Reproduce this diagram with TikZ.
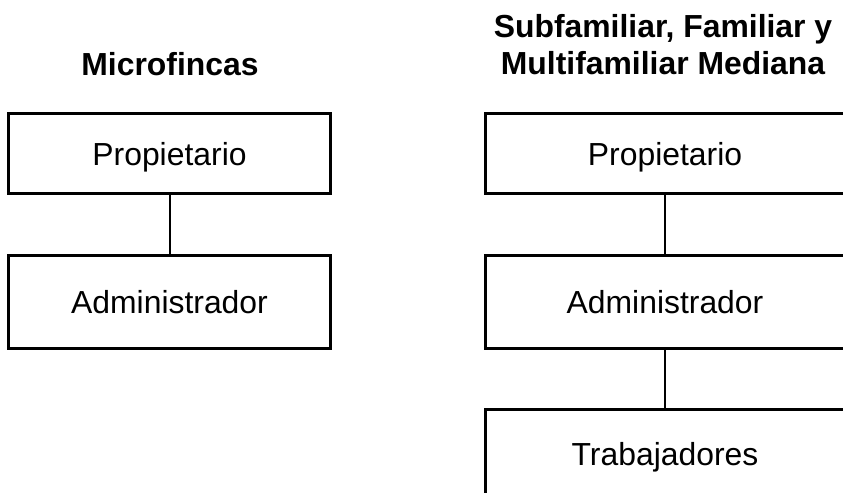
\documentclass[tikz,border=0pt]{standalone}
\usepackage{fontspec}
\setmainfont{Liberation Sans}
\begin{document}
\begin{tikzpicture}[x=1bp,y=-1bp,
  orgbox/.style={draw=black, line width=3bp, rectangle, inner sep=0pt, outer sep=0pt,
    text height=22.5bp, text depth=0pt,
    font=\fontsize{32}{38}\selectfont},
  titletext/.style={font=\fontsize{32}{38}\selectfont\bfseries, align=center, inner sep=0pt},
  link/.style={draw=black, line width=2bp}]
\useasboundingbox (0,0) rectangle (843,493);
\clip (0,0) rectangle (843,493);
% Left column
\node[titletext, anchor=base] (t1) at (170,76) {Microfincas};
\node[orgbox, minimum width=321bp, minimum height=80bp] (lp) at (169.5,154) {Propietario};
\node[orgbox, minimum width=321bp, minimum height=92bp] (la) at (169.5,302) {Administrador};
% Right column
\node[titletext, anchor=base] (t2a) at (663,38) {Subfamiliar, Familiar y};
\node[titletext, anchor=base] (t2b) at (663,75) {Multifamiliar Mediana};
\node[orgbox, minimum width=360bp, minimum height=80bp] (rp) at (665,154) {Propietario};
\node[orgbox, minimum width=360bp, minimum height=92bp] (ra) at (665,302) {Administrador};
\node[orgbox, minimum width=360bp, minimum height=90bp] (rt) at (665,454) {Trabajadores};
% Connectors
\draw[link] (lp.south) -- (la.north);
\draw[link] (rp.south) -- (ra.north);
\draw[link] (ra.south) -- (rt.north);
\end{tikzpicture}
\end{document}
